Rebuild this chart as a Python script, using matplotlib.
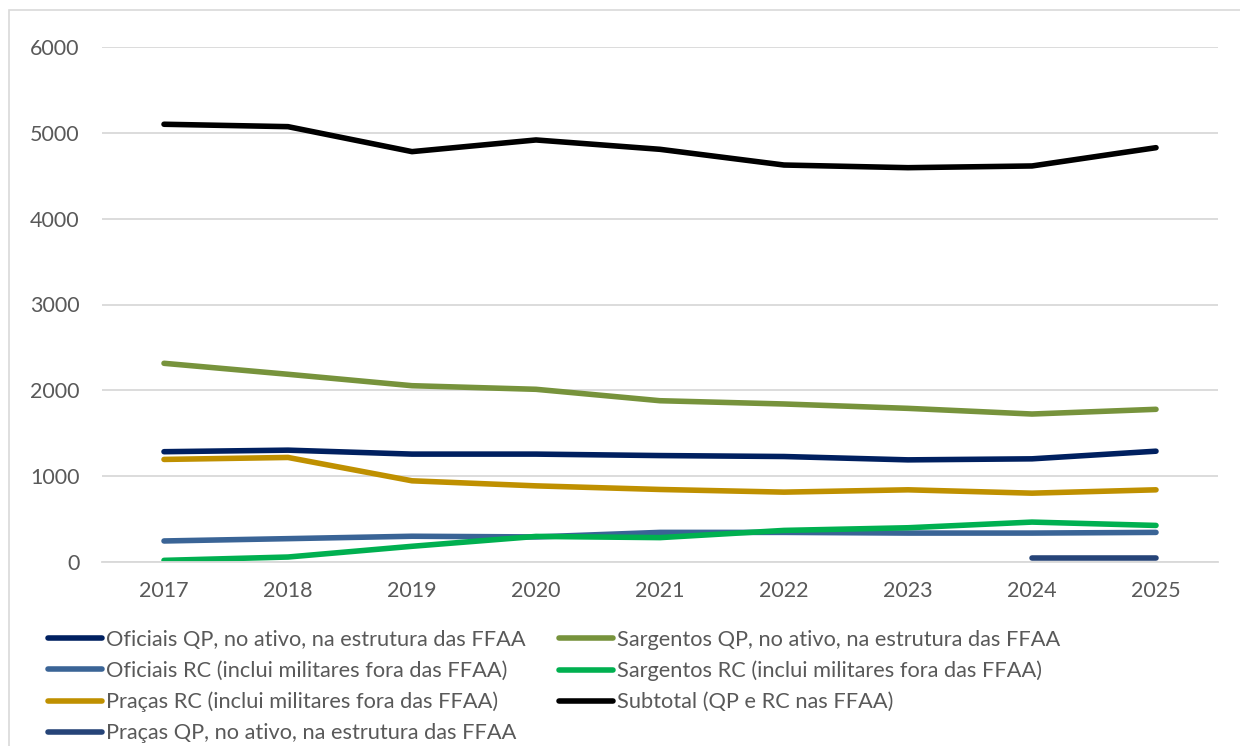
"""Efetivos das FFAA por categoria, 2017-2025 (line chart)"""
import matplotlib
matplotlib.use('Agg')
import matplotlib.pyplot as plt
from matplotlib.patches import Rectangle

plt.rcParams['font.family'] = ['Lato', 'DejaVu Sans']

#
# Data
#
years = ['2017', '2018', '2019', '2020', '2021', '2022', '2023', '2024', '2025']

oficiais_qp = [1285, 1303, 1257, 1257, 1240, 1229, 1190, 1202, 1291]
sargentos_qp = [2315, 2187, 2054, 2012, 1879, 1841, 1790, 1724, 1779]
oficiais_rc = [245, 272, 300, 292, 345, 345, 337, 337, 345]
sargentos_rc = [19, 58, 183, 298, 284, 368, 399, 465, 426]
pracas_rc = [1195, 1218, 946, 887, 845, 814, 841, 802, 841]
subtotal = [5100, 5072, 4781, 4917, 4808, 4625, 4594, 4614, 4827]
pracas_qp = [None, None, None, None, None, None, None, 43, 43]

series = [
    ('Oficiais QP, no ativo, na estrutura das FFAA', oficiais_qp, '#002060'),
    ('Sargentos QP, no ativo, na estrutura das FFAA', sargentos_qp, '#77933C'),
    ('Oficiais RC (inclui militares fora das FFAA)', oficiais_rc, '#3A6496'),
    ('Sargentos RC (inclui militares fora das FFAA)', sargentos_rc, '#00B050'),
    ('Praças RC (inclui militares fora das FFAA)', pracas_rc, '#BF9000'),
    ('Subtotal (QP e RC nas FFAA)', subtotal, '#000000'),
    ('Praças QP, no ativo, na estrutura das FFAA', pracas_qp, '#264478'),
]

#
# Plot
#
fig = plt.figure(figsize=(12.4, 7.46), dpi=100)
ax = fig.add_axes([102/1240, 1 - 562/746, 1116/1240, 515/746])

x = list(range(len(years)))
lines = {}
for label, vals, col in series:
    xs = [i for i, v in zip(x, vals) if v is not None]
    ys = [v for v in vals if v is not None]
    ln, = ax.plot(xs, ys, '-', color=col, lw=4.0, label=label,
                  solid_capstyle='round', solid_joinstyle='round')
    lines[label] = ln

ax.set_xlim(-0.5, len(years) - 0.5)
ax.set_ylim(0, 6000)
ax.set_yticks(range(0, 7000, 1000))
ax.set_xticks(x)
ax.set_xticklabels(years)
ax.grid(axis='y', color='#D9D9D9', lw=1.3)
ax.set_axisbelow(True)
for s in ['top', 'right', 'left']:
    ax.spines[s].set_visible(False)
ax.spines['bottom'].set_color('#D9D9D9')
ax.spines['bottom'].set_linewidth(1.3)
ax.tick_params(axis='both', length=0, labelsize=15.5, colors='#595959')
ax.tick_params(axis='y', pad=16)
ax.tick_params(axis='x', pad=14)

# legend: column-major order so rows read as in the original
order = [0, 2, 4, 6, 1, 3, 5]
handles = [lines[series[i][0]] for i in order]
labels = [series[i][0] for i in order]
fig.legend(handles, labels, loc='upper left', ncol=2,
           bbox_to_anchor=(37/1240, 1 - 619/746),
           frameon=False, fontsize=15.7, labelcolor='#595959',
           handlelength=2.5, handletextpad=0.18, columnspacing=1.5,
           labelspacing=0.5, borderpad=0)

# chart frame
fig.patches.append(Rectangle((9/1240, -0.1), 1.2, 1 - 10/746 + 0.1,
                             transform=fig.transFigure, fill=False,
                             edgecolor='#D9D9D9', lw=1.2))

plt.savefig('out.png', dpi=100)
